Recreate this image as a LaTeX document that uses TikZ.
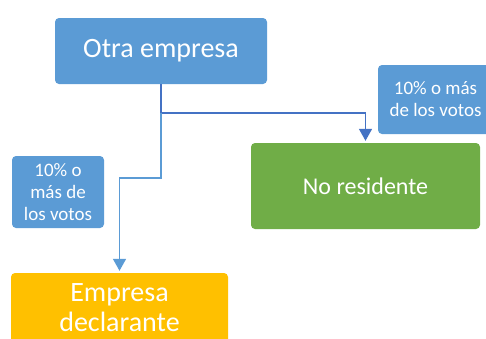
\documentclass[tikz,border=0pt]{standalone}
\usepackage{fontspec}
\setmainfont{Carlito}
\usetikzlibrary{arrows.meta}
\definecolor{azul}{HTML}{5B9BD5}
\definecolor{azuloscuro}{HTML}{4472C4}
\definecolor{verde}{HTML}{70AD47}
\definecolor{amarillo}{HTML}{FFC000}
\tikzset{
	caja/.style={rounded corners=4pt,text=white,align=center,inner sep=0pt},
	etiqueta/.style={caja,fill=azul,font=\fontsize{19}{22}\selectfont},
	flecha/.style={line width=1.5pt,-{Triangle[length=12pt,width=13pt]}}
}
\begin{document}
\begin{tikzpicture}[x=1pt,y=1pt]
		\useasboundingbox (0,0) rectangle (486,-338);

		\node[caja,fill=azul,minimum width=212pt,minimum height=66pt,font=\fontsize{28}{30}\selectfont] (otra) at (161,-51) {Otra empresa};
		\node[caja,fill=verde,minimum width=229pt,minimum height=86pt,font=\fontsize{24}{28}\selectfont] (nores) at (365.5,-186) {No residente};
		\node[caja,fill=amarillo,minimum width=217pt,minimum height=70pt,font=\fontsize{28}{30}\selectfont] (empresa) at (119.5,-308) {Empresa\\declarante};

		\node[etiqueta,minimum width=115pt,minimum height=69pt] (votosder) at (435.5,-99.5) {10\% o más\\de los votos};
		\node[etiqueta,minimum width=92pt,minimum height=72pt] (votosizq) at (58,-192) {10\% o\\más de\\los votos};

		\path (otra.south) ++(0,-29) coordinate (split);
		\path (nores.north) ++(0,2) coordinate (finder);
		\path (empresa.north) ++(0,2) coordinate (finizq);
		\draw[flecha,azuloscuro] (otra.south) -- (split) -| (finder);
		\draw[flecha,azul] (split) -- ++(0,-65) coordinate (codo) -| (finizq);
	\end{tikzpicture}
\end{document}
